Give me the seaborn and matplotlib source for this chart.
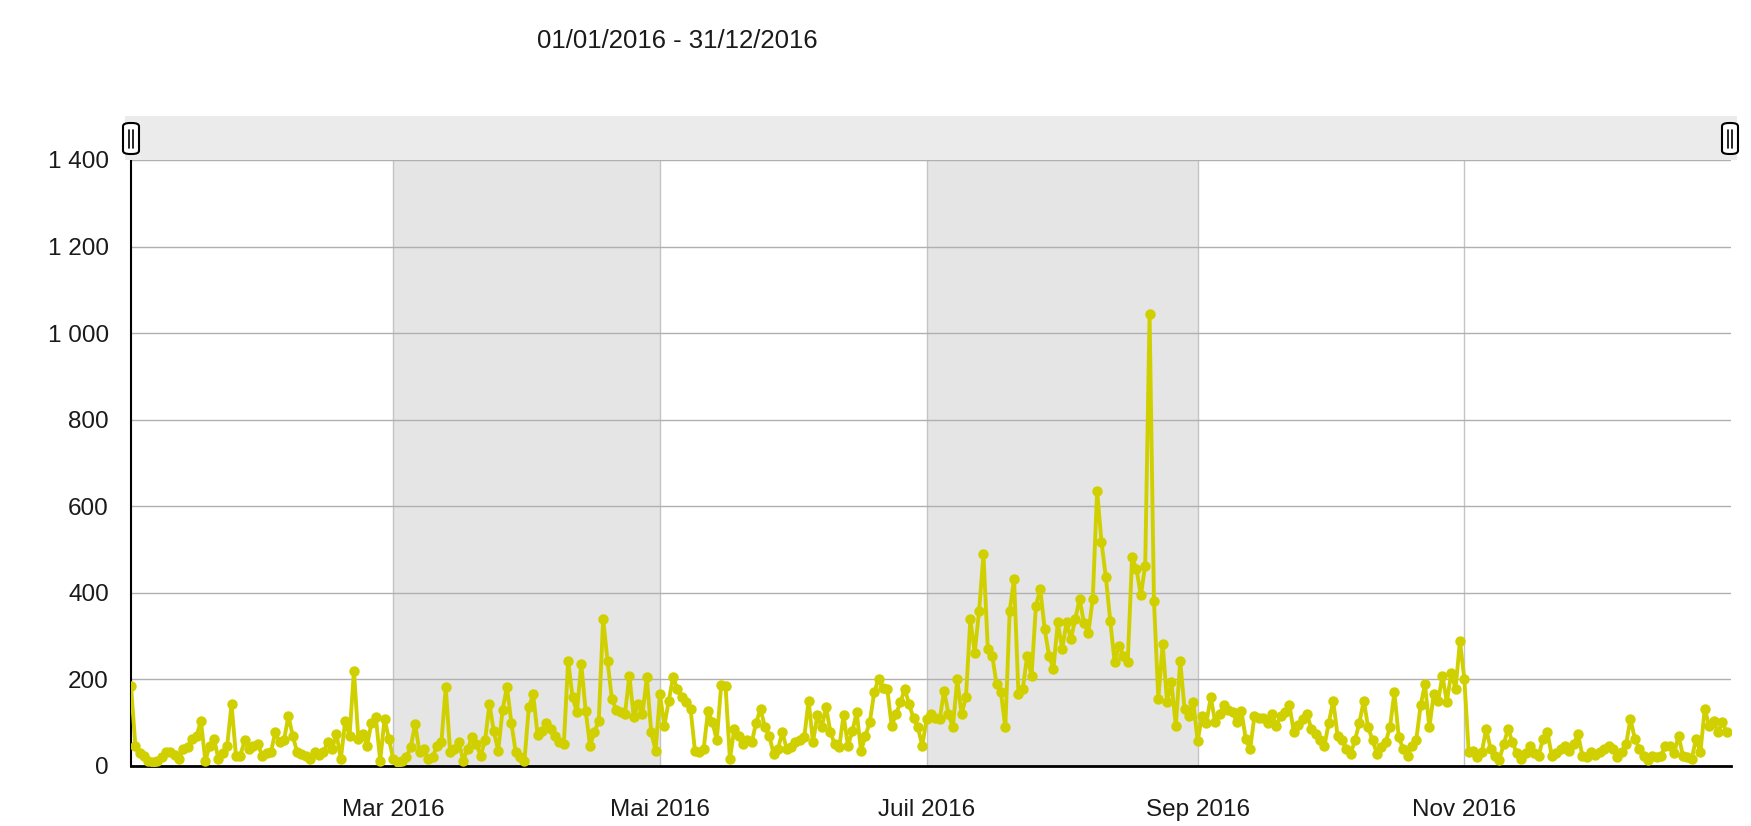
import numpy as np
import pandas as pd
import matplotlib
matplotlib.use('Agg')
import matplotlib.pyplot as plt
import matplotlib.ticker as mticker
from matplotlib.patches import FancyBboxPatch
import seaborn as sns

# daily values 2016
jan = [185, 47, 30, 24, 12, 10, 12, 20, 32, 32, 25, 16, 39, 45, 63, 70, 104, 12, 47, 63,
       16, 30, 47, 143, 24, 24, 59, 40, 47, 51, 24]
feb = [30, 32, 78, 55, 60, 115, 70, 32, 28, 24, 16, 32, 25, 32, 55, 39, 74, 16, 104, 70,
       220, 63, 74, 47, 100, 113, 12, 109, 63]
mar = [16, 10, 12, 20, 45, 97, 32, 40, 16, 20, 47, 55, 183, 32, 40, 55, 12, 40, 66, 50,
       24, 60, 143, 80, 35, 130, 183, 100, 32, 20, 12]
apr = [136, 166, 72, 80, 100, 86, 70, 55, 50, 243, 160, 124, 236, 128, 47, 78, 105, 340, 243, 155,
       130, 124, 120, 209, 113, 143, 120, 205, 78, 35]
may = [166, 93, 150, 205, 178, 160, 147, 132, 35, 32, 40, 128, 101, 60, 186, 185, 16, 86, 70, 51,
       60, 55, 100, 132, 90, 70, 28, 40, 78, 39, 45]
jun = [55, 60, 66, 151, 55, 117, 90, 136, 78, 50, 43, 117, 47, 80, 124, 35, 70, 101, 170, 201,
       180, 178, 93, 120, 147, 178, 143, 110, 89, 47]
jul = [108, 120, 110, 108, 174, 120, 89, 200, 120, 159, 339, 262, 358, 489, 270, 255, 189, 170, 89, 358,
       432, 166, 178, 255, 208, 370, 409, 316, 255, 224, 332]
aug = [270, 332, 293, 339, 386, 330, 308, 386, 636, 517, 436, 336, 240, 278, 255, 240, 482, 455, 394, 463,
       1044, 382, 155, 282, 147, 193, 93, 243, 132, 116, 147]
sep = [58, 116, 100, 159, 101, 120, 140, 130, 124, 101, 128, 62, 39, 116, 110, 112, 100, 120, 93, 116,
       125, 140, 78, 95, 108, 120, 86, 75, 60, 47]
oct_ = [100, 151, 70, 60, 40, 28, 60, 100, 151, 89, 60, 28, 45, 55, 90, 170, 66, 40, 24, 47,
        60, 140, 189, 89, 166, 150, 209, 147, 216, 178, 289]
nov = [201, 32, 35, 20, 32, 86, 40, 24, 15, 50, 86, 55, 30, 16, 30, 47, 30, 24, 63, 78,
       24, 30, 39, 47, 35, 50, 74, 24, 20, 32]
dec = [25, 32, 40, 47, 39, 20, 32, 50, 109, 63, 40, 24, 15, 24, 20, 24, 47, 47, 30, 70,
       24, 20, 16, 63, 32, 132, 93, 105, 78, 101, 78]

tick_dates = ['2016-03-01', '2016-05-01', '2016-07-01', '2016-09-01', '2016-11-01']
tick_labels = ['Mar 2016', 'Mai 2016', 'Juil 2016', 'Sep 2016', 'Nov 2016']
bands = [('2016-03-01', '2016-05-01'), ('2016-07-01', '2016-09-01')]
title = '01/01/2016 - 31/12/2016'

values = jan + feb + mar + apr + may + jun + jul + aug + sep + oct_ + nov + dec
df = pd.DataFrame({'date': pd.date_range('2016-01-01', '2016-12-31'), 'value': values})

sns.set_style('white')
plt.rcParams['font.family'] = ['Liberation Sans', 'DejaVu Sans']

W, H = 1751, 826
fig = plt.figure(figsize=(W / 100, H / 100), dpi=100)
ax = fig.add_axes([131 / W, 60 / H, 1600 / W, 606 / H])

# shaded month bands
for a, b in bands:
    ax.axvspan(pd.Timestamp(a), pd.Timestamp(b), color='#e5e5e5', zorder=0, lw=0)

sns.lineplot(data=df, x='date', y='value', ax=ax, color='#d0d000', marker='o',
             markersize=7.5, markeredgewidth=0, linewidth=2.8, zorder=3)

ax.set_xlim(pd.Timestamp('2016-01-01'), pd.Timestamp('2017-01-01'))
ax.set_ylim(0, 1400)
ax.set_xlabel('')
ax.set_ylabel('')

ax.set_xticks(pd.to_datetime(tick_dates))
ax.set_xticklabels(tick_labels)
ax.set_yticks(np.arange(0, 1401, 200))
ax.yaxis.set_major_formatter(mticker.FuncFormatter(lambda v, p: f'{int(v):,}'.replace(',', ' ')))

ax.grid(False)
ax.yaxis.grid(True, color='#b0b0b0', lw=1)
ax.xaxis.grid(True, color='#c4c4c4', lw=1)
ax.set_axisbelow(True)

for s in ['top', 'right']:
    ax.spines[s].set_visible(False)
ax.spines['left'].set_color('black')
ax.spines['left'].set_linewidth(1.5)
ax.spines['bottom'].set_color('black')
ax.spines['bottom'].set_linewidth(2)

ax.tick_params(axis='x', direction='out', length=10, width=1.2, color='black',
               labelsize=17.5, pad=14, labelcolor='#1a1a1a')
ax.tick_params(axis='y', direction='out', length=6, width=1.2, color='black',
               labelsize=17.5, pad=10, labelcolor='#1a1a1a')

# navigator bar on top
bar = fig.add_axes([125 / W, 666 / H, 1612 / W, 44 / H])
bar.set_facecolor('#ebebeb')
bar.set_xticks([])
bar.set_yticks([])
for s in bar.spines.values():
    s.set_visible(False)

for cx in [131, 1730]:
    fig.patches.append(FancyBboxPatch(((cx - 8) / W, (826 - 154) / H), 16 / W, 31 / H,
                                      boxstyle='round,pad=0,rounding_size=0.004',
                                      transform=fig.transFigure, fc='white', ec='black', lw=1.5))
    for dx in [-2, 2]:
        fig.add_artist(plt.Line2D([(cx + dx) / W] * 2, [(826 - 148) / H, (826 - 130) / H],
                                  transform=fig.transFigure, color='black', lw=1.2))

fig.text(677 / W, 1 - 41 / H, title, ha='center', va='center', fontsize=18.5, color='#1a1a1a')

fig.savefig('out.png', dpi=100)
